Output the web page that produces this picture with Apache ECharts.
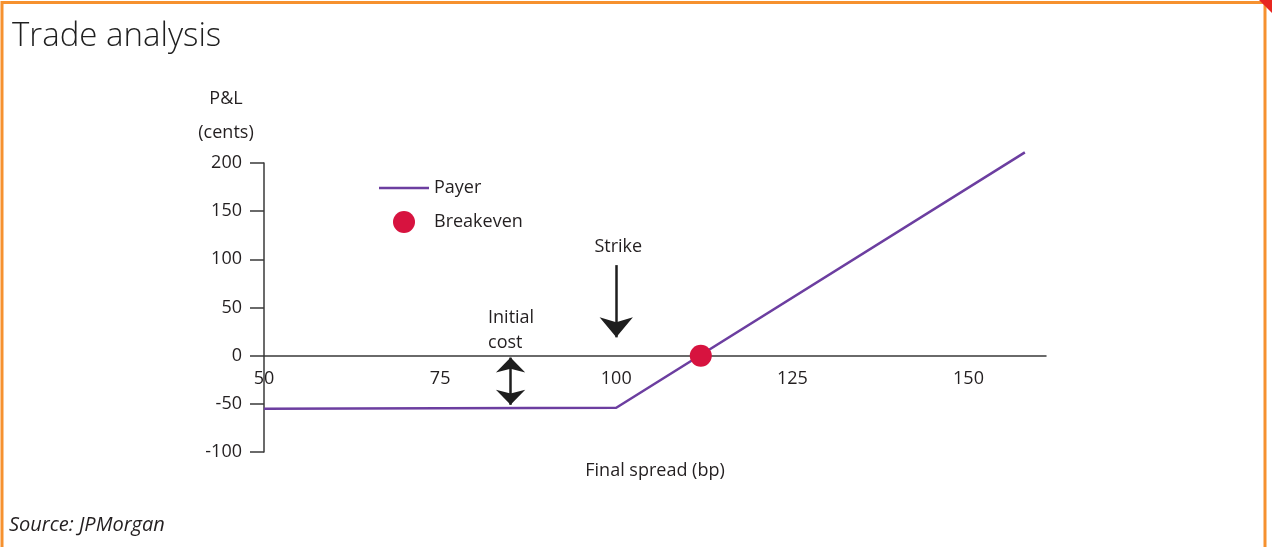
<!DOCTYPE html>
<html>
<head>
<meta charset="utf-8">
<script src="https://cdn.jsdelivr.net/npm/echarts@6/dist/echarts.min.js"></script>
<style>
  html, body { margin: 0; padding: 0; background: #ffffff; }
  #chart { width: 1272px; height: 547px; }
</style>
</head>
<body>
<div id="chart"></div>
<script>
// Payoff of a payer swaption versus the final spread
const payerSpread = [50, 100, 158];
const payerPnl = [-55, -54, 211];

// Point where the payoff crosses zero
const breakevenSpread = [112];
const breakevenPnl = [0];

// Axis ticks
const xTicks = [50, 75, 100, 125, 150];
const yTicks = [-100, -50, 0, 50, 100, 150, 200];
const xMax = 161;

// Annotations (data coordinates)
const strikeArrow = [[100, 94], [100, 19]];
const costArrow = [[85, -2], [85, -51]];
const strikeText = { text: 'Strike', at: [100, 113] };
const costText = { text: 'Initial\ncost', at: [81.8, 26] };

const FONT = "'Open Sans', 'Noto Sans', sans-serif";
const TEXT = '#231f20';
const PURPLE = '#6c3ea0';
const RED = '#d7133f';
const ORANGE = '#f6912f';

const chart = echarts.init(document.getElementById('chart'), null, { renderer: 'canvas' });

const option = {
  backgroundColor: '#ffffff',
  animation: false,
  textStyle: { fontFamily: FONT, color: TEXT },
  title: {
    text: 'Trade analysis',
    left: 7,
    top: 15,
    textStyle: { fontFamily: FONT, fontWeight: 300, fontSize: 33, color: '#1f1f1f' }
  },
  legend: {
    orient: 'vertical',
    left: 379,
    top: 179,
    itemWidth: 50,
    itemHeight: 22,
    itemGap: 14,
    padding: 0,
    symbolKeepAspect: true,
    textStyle: { fontFamily: FONT, fontSize: 18, color: TEXT },
    data: [
      { name: 'Payer', icon: 'path://M0,0H50V2.5H0Z', itemStyle: { color: PURPLE } },
      { name: 'Breakeven', icon: 'circle', itemStyle: { color: RED, opacity: 1 } }
    ]
  },
  grid: { left: 264, right: 226, top: 163, bottom: 95, containLabel: false, outerBoundsMode: 'none' },
  xAxis: {
    type: 'value',
    min: xTicks[0],
    max: xMax,
    interval: xTicks[1] - xTicks[0],
    name: 'Final spread (bp)',
    nameLocation: 'middle',
    nameGap: 106,
    nameTextStyle: { fontFamily: FONT, fontSize: 18, color: TEXT },
    axisLine: { onZero: false, lineStyle: { color: '#3a3a3a', width: 1.5 } },
    axisTick: { show: false },
    splitLine: { show: false },
    axisLabel: {
      fontFamily: FONT, fontSize: 18, color: TEXT, margin: 14,
      showMaxLabel: false,
      formatter: v => (xTicks.indexOf(v) >= 0 ? String(v) : '')
    }
  },
  yAxis: {
    type: 'value',
    min: yTicks[0],
    max: yTicks[yTicks.length - 1],
    interval: yTicks[1] - yTicks[0],
    axisLine: { show: true, lineStyle: { color: '#3a3a3a', width: 1.5 } },
    axisTick: { show: true, length: 14, lineStyle: { color: '#3a3a3a', width: 1.5 } },
    splitLine: { show: false },
    axisLabel: { fontFamily: FONT, fontSize: 18, color: TEXT, margin: 22 }
  },
  series: [
    {
      name: 'Payer',
      type: 'line',
      symbol: 'none',
      clip: false,
      data: payerSpread.map((x, i) => [x, payerPnl[i]]),
      lineStyle: { color: PURPLE, width: 2.5 },
      itemStyle: { color: PURPLE },
      z: 3,
      markLine: {
        silent: true,
        animation: false,
        label: { show: false },
        emphasis: { disabled: true },
        lineStyle: { color: '#1e1e1e', width: 2.5, type: 'solid' },
        data: [
          [
            { coord: strikeArrow[0], symbol: 'none' },
            { coord: strikeArrow[1], symbol: 'arrow', symbolSize: [25, 20] }
          ],
          [
            { coord: costArrow[0], symbol: 'arrow', symbolSize: [22, 15] },
            { coord: costArrow[1], symbol: 'arrow', symbolSize: [22, 15] }
          ]
        ]
      }
    },
    {
      name: 'Breakeven',
      type: 'scatter',
      symbol: 'circle',
      symbolSize: 22,
      clip: false,
      data: breakevenSpread.map((x, i) => [x, breakevenPnl[i]]),
      itemStyle: { color: RED, opacity: 1 },
      z: 4
    }
  ]
};

chart.setOption(option);

// Move the x axis (line, labels and name) up to the zero level of the y axis
const zeroY = chart.convertToPixel({ yAxisIndex: 0 }, 0);
const bottomY = chart.convertToPixel({ yAxisIndex: 0 }, yTicks[0]);

// Labels and frame drawn after the axes exist, so annotation text sits at data positions
const sp = chart.convertToPixel({ gridIndex: 0 }, strikeText.at);
const cp = chart.convertToPixel({ gridIndex: 0 }, costText.at);

chart.setOption({
  xAxis: { offset: zeroY - bottomY },
  graphic: [
    {
      type: 'polyline',
      silent: true,
      shape: { points: [[2, 547], [2, 2.5], [1265, 2.5], [1265, 547]] },
      style: { stroke: ORANGE, lineWidth: 3, fill: null }
    },
    {
      type: 'polygon',
      silent: true,
      shape: { points: [[1259, 0], [1272, 0], [1272, 13]] },
      style: { fill: '#e8261f' }
    },
    {
      type: 'text',
      silent: true,
      x: 226, y: 99,
      style: { text: 'P&L', font: '18px ' + FONT, fill: TEXT, align: 'center', verticalAlign: 'middle' }
    },
    {
      type: 'text',
      silent: true,
      x: 226, y: 133,
      style: { text: '(cents)', font: '18px ' + FONT, fill: TEXT, align: 'center', verticalAlign: 'middle' }
    },
    {
      type: 'text',
      silent: true,
      x: sp[0] + 2, y: sp[1],
      style: { text: strikeText.text, font: '18px ' + FONT, fill: TEXT, align: 'center', verticalAlign: 'middle' }
    },
    {
      type: 'text',
      silent: true,
      x: cp[0], y: cp[1],
      style: { text: costText.text, font: '18px ' + FONT, fill: TEXT, align: 'left', verticalAlign: 'middle', lineHeight: 25 }
    },
    {
      type: 'text',
      silent: true,
      x: 9, y: 525,
      style: { text: 'Source: JPMorgan', font: 'italic 20px ' + FONT, fill: TEXT, align: 'left', verticalAlign: 'middle' }
    }
  ]
});
</script>
</body>
</html>
